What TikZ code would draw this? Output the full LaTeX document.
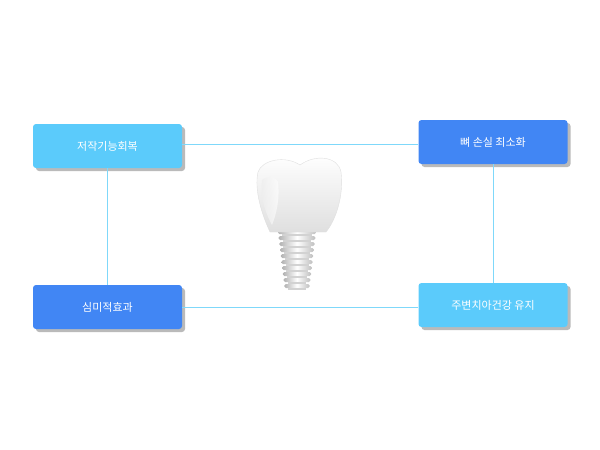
\documentclass[tikz,border=0pt]{standalone}
\usepackage{fontspec}
\newfontfamily\kr{Noto Sans CJK KR}
\definecolor{lb}{HTML}{5BCBFB}
\definecolor{db}{HTML}{4186F4}
\definecolor{ln}{HTML}{7FD8FA}
\tikzset{
 boxbase/.style={minimum width=149pt,minimum height=44pt,rounded corners=3pt,text=white,font=\kr\fontsize{11}{13}\selectfont,inner sep=0pt},
 light/.style={boxbase,fill=lb},
 dark/.style={boxbase,fill=db},
 conn/.style={draw=ln,line width=1pt}
}
\begin{document}
\begin{tikzpicture}[x=1pt,y=-1pt]
\useasboundingbox (0,0) rectangle (600,450);
% shadows
\foreach \x/\y in {107.5/146, 493/142, 107.5/307, 493/305}{
  \fill[black!45,rounded corners=3pt,opacity=0.6] (\x-74.5+3,\y-22+3) rectangle (\x+74.5+3,\y+22+3);
}
\node[light] (a) at (107.5,146) {저작기능회복};
\node[dark] (b) at (493,142) {뼈 손실 최소화};
\node[dark] (c) at (107.5,307) {심미적효과};
\node[light] (d) at (493,305) {주변치아건강 유지};
\draw[conn] (a.east |- 0,144) -- (b.west |- 0,144);
\draw[conn] (a.south) -- (c.north);
\draw[conn] (b.south) -- (d.north);
\draw[conn] (c.east |- 0,307) -- (d.west |- 0,307);
% implant screw
\foreach \i in {0,...,9}{
  \pgfmathsetmacro{\yy}{230+\i*6}
  \pgfmathsetmacro{\hw}{19-\i*0.7}
  \shade[left color=gray!60,right color=gray!50,middle color=white,rounded corners=1.5pt] (297-\hw,\yy) rectangle (297+\hw,\yy+4);
  \fill[gray!35] (297-\hw+4,\yy+4) rectangle (297+\hw-4,\yy+6);
}
% crown
\shade[top color=white,bottom color=gray!25,draw=gray!25]
  (270,232) .. controls (262,215) and (254,190) .. (258,172)
  .. controls (262,160) and (285,155) .. (300,165)
  .. controls (315,154) and (338,156) .. (341,172)
  .. controls (344,195) and (336,220) .. (326,232) -- cycle;
\shade[left color=gray!15,right color=white,opacity=0.7] (262,180) .. controls (268,175) and (274,176) .. (278,182) .. controls (280,200) and (276,215) .. (272,225) .. controls (264,210) and (260,195) .. (262,180);
\end{tikzpicture}
\end{document}
